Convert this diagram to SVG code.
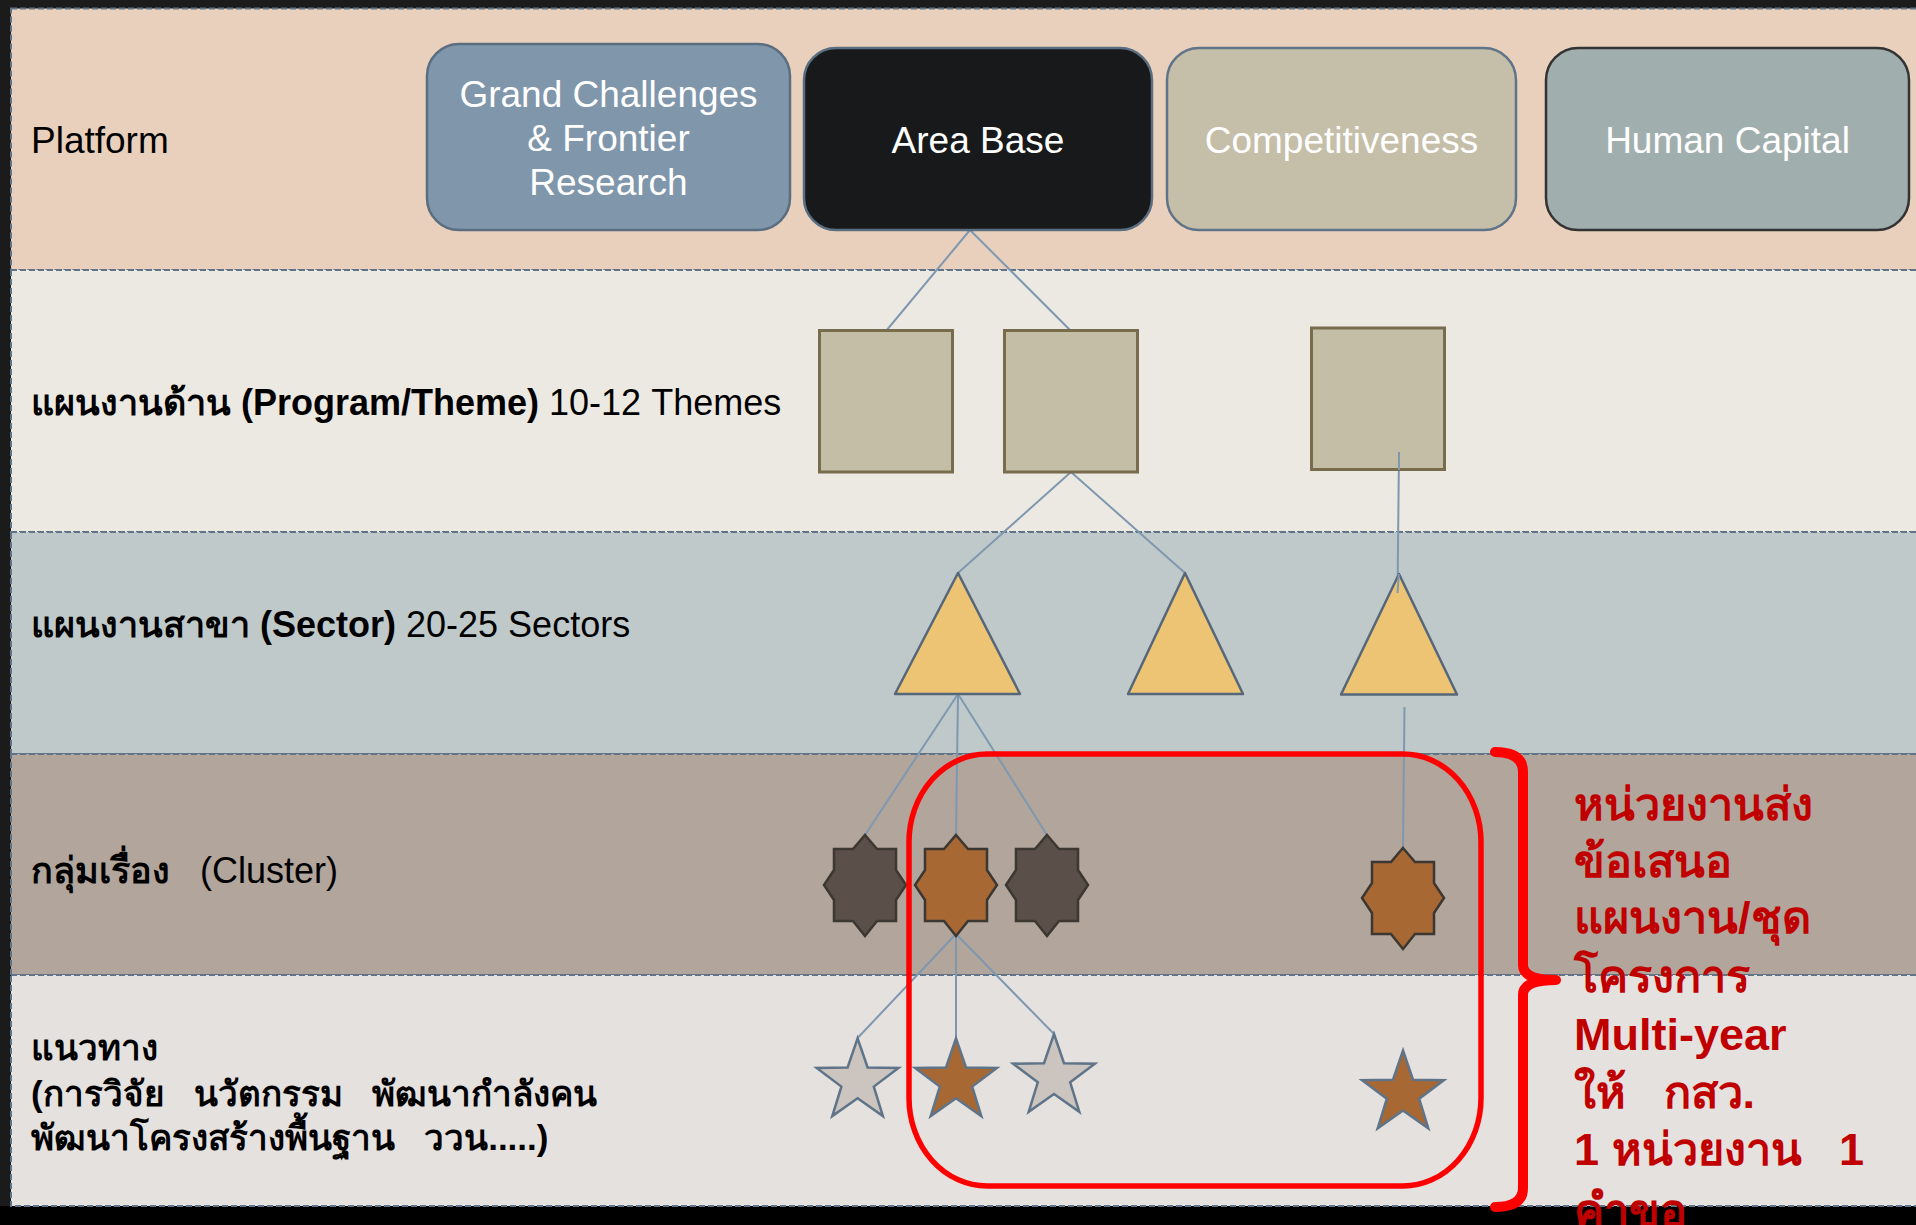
<svg xmlns="http://www.w3.org/2000/svg" width="1916" height="1225" viewBox="0 0 1916 1225">
<style>
text{font-family:"Liberation Sans","DejaVu Sans","Noto Sans",sans-serif;white-space:pre}
.band{stroke:#5f7488;stroke-width:2;stroke-dasharray:6 3}
.lbl{font-size:36px;fill:#000}
.b{font-weight:bold}
.ptxt{font-size:37px;fill:#fff;text-anchor:middle}
.plat{stroke-width:2.5}
.theme{fill:#c4bea7;stroke:#776c4c;stroke-width:3}
.tri{fill:#ecc474;stroke:#56677a;stroke-width:2.5;stroke-linejoin:round}
.conn line{stroke:#7f98b0;stroke-width:2}
.oct{stroke:#3d3731;stroke-width:2.5}
.star{stroke:#5f7488;stroke-width:2.5}
.red{font-size:45px;font-weight:bold;fill:#c00000}
</style>
<defs>
<path id="oct8" d="M0,-50 L12,-36 L31,-36 L31,-15 L41,0 L31,15 L31,36 L12,36 L0,51 L-12,36 L-31,36 L-31,15 L-41,0 L-31,-15 L-31,-36 L-12,-36 Z"/>
<path id="star5" d="M0,-43 L10,-13.8 L40.9,-13.3 L16.2,5.3 L25.3,34.8 L0,17 L-25.3,34.8 L-16.2,5.3 L-40.9,-13.3 L-10,-13.8 Z"/>
</defs>
<rect x="0" y="0" width="1916" height="1225" fill="#1b1b1b"/>
<rect x="0" y="1206" width="1916" height="19" fill="#000"/>
<g id="bands">
<rect class="band" x="11" y="8.5" width="1910" height="261.5" fill="#e9d0bd"/>
<rect class="band" x="11" y="270" width="1910" height="262" fill="#ece9e2"/>
<rect class="band" x="11" y="532" width="1910" height="222" fill="#bfc9ca"/>
<rect class="band" x="11" y="754" width="1910" height="221" fill="#b1a59c"/>
<rect class="band" x="11" y="975" width="1910" height="231" fill="#e5e1de"/>
</g>
<g id="labels">
<text class="lbl" x="31" y="153" style="font-size:37px">Platform</text>
<text class="lbl" x="31" y="415"><tspan class="b">แผนงานด้าน (Program/Theme)</tspan> 10-12 Themes</text>
<text class="lbl" x="31" y="637"><tspan class="b">แผนงานสาขา (Sector)</tspan> 20-25 Sectors</text>
<text class="lbl" x="31" y="883"><tspan class="b">กลุ่มเรื่อง</tspan>   (Cluster)</text>
<text class="lbl b" x="31" y="1060" style="font-size:35px">แนวทาง</text>
<text class="lbl b" x="31" y="1106" style="font-size:35px">(การวิจัย   นวัตกรรม   พัฒนากำลังคน</text>
<text class="lbl b" x="31" y="1150" style="font-size:35px">พัฒนาโครงสร้างพื้นฐาน   ววน.....)</text>
</g>
<g id="conn" class="conn">
<line x1="970" y1="230" x2="886" y2="331"/>
<line x1="970" y1="230" x2="1071" y2="331"/>
<line x1="1071" y1="472" x2="958" y2="573"/>
<line x1="1071" y1="472" x2="1185" y2="573"/>
<line x1="1399" y1="452" x2="1397.5" y2="593"/>
<line x1="958" y1="694" x2="865" y2="835"/>
<line x1="958" y1="694" x2="956" y2="835"/>
<line x1="958" y1="694" x2="1047" y2="835"/>
<line x1="1404.5" y1="707" x2="1403" y2="848"/>
<line x1="956" y1="934" x2="857.6" y2="1038"/>
<line x1="956" y1="934" x2="956" y2="1038"/>
<line x1="956" y1="934" x2="1054" y2="1034"/>
</g>
<g id="platform-gc"><rect class="plat" x="427" y="44" width="363" height="186" rx="32" fill="#7f96ab" stroke="#5a6e80"/>
<text class="ptxt" x="608.5" y="107">Grand Challenges</text><text class="ptxt" x="608.5" y="151">&amp; Frontier</text><text class="ptxt" x="608.5" y="195">Research</text></g>
<g id="platform-area"><rect class="plat" x="804" y="48" width="348" height="182" rx="32" fill="#18191b" stroke="#5a6e80"/>
<text class="ptxt" x="978" y="153">Area Base</text></g>
<g id="platform-comp"><rect class="plat" x="1167" y="48" width="349" height="182" rx="32" fill="#c5bea8" stroke="#5f7488"/>
<text class="ptxt" x="1341.5" y="153">Competitiveness</text></g>
<g id="platform-hc"><rect class="plat" x="1546" y="48" width="363" height="182" rx="32" fill="#a1aeae" stroke="#333"/>
<text class="ptxt" x="1727.5" y="153">Human Capital</text></g>
<g id="theme1"><rect class="theme" x="819.5" y="330.5" width="133" height="141.5"/></g>
<g id="theme2"><rect class="theme" x="1004.5" y="330.5" width="133" height="141.5"/></g>
<g id="theme3"><rect class="theme" x="1311.5" y="328" width="133" height="141.5"/></g>
<g id="conn-over" class="conn"><line x1="1399" y1="452" x2="1399" y2="470"/></g>
<g id="sector1"><polygon class="tri" points="958,573 1020,694 895,694"/></g>
<g id="sector2"><polygon class="tri" points="1185,573 1243,694 1128,694"/></g>
<g id="sector3"><polygon class="tri" points="1399,574 1457,694.5 1341,694.5"/></g>
<g id="conn-over2" class="conn"><line x1="1398.8" y1="574" x2="1397.5" y2="593"/></g>
<g id="cluster1"><use href="#oct8" class="oct" x="865" y="885" fill="#5b5049"/></g>
<g id="cluster2"><use href="#oct8" class="oct" x="956" y="885" fill="#a86834"/></g>
<g id="cluster3"><use href="#oct8" class="oct" x="1047" y="885" fill="#5b5049"/></g>
<g id="cluster4"><use href="#oct8" class="oct" x="1403" y="898" fill="#a86834"/></g>
<g id="path1"><use href="#star5" class="star" x="857.6" y="1081.3" fill="#cbc4bf"/></g>
<g id="path2"><use href="#star5" class="star" x="956" y="1081.3" fill="#a86834"/></g>
<g id="path3"><use href="#star5" class="star" x="1054" y="1077" fill="#cbc4bf"/></g>
<g id="path4"><use href="#star5" class="star" x="1403" y="1093.5" fill="#a86834"/></g>
<g id="highlight">
<rect x="909" y="754" width="572" height="432" rx="78" ry="88" fill="none" stroke="#ff0000" stroke-width="5.5"/>
<path d="M1495,752 Q1523,752 1523,772 L1523,965 Q1523,980 1556,980 Q1523,980 1523,995 L1523,1188 Q1523,1207 1495,1207" fill="none" stroke="#ff0000" stroke-width="10" stroke-linecap="round" stroke-linejoin="round"/>
</g>
<g id="note">
<text class="red" x="1574" y="820">หน่วยงานส่ง</text>
<text class="red" x="1574" y="877">ข้อเสนอ</text>
<text class="red" x="1574" y="933">แผนงาน/ชุด</text>
<text class="red" x="1574" y="992">โครงการ</text>
<text class="red" x="1574" y="1050">Multi-year</text>
<text class="red" x="1574" y="1108">ให้   กสว.</text>
<text class="red" x="1574" y="1165">1 หน่วยงาน   1</text>
<text class="red" x="1574" y="1226">คำขอ</text>
</g>
</svg>
